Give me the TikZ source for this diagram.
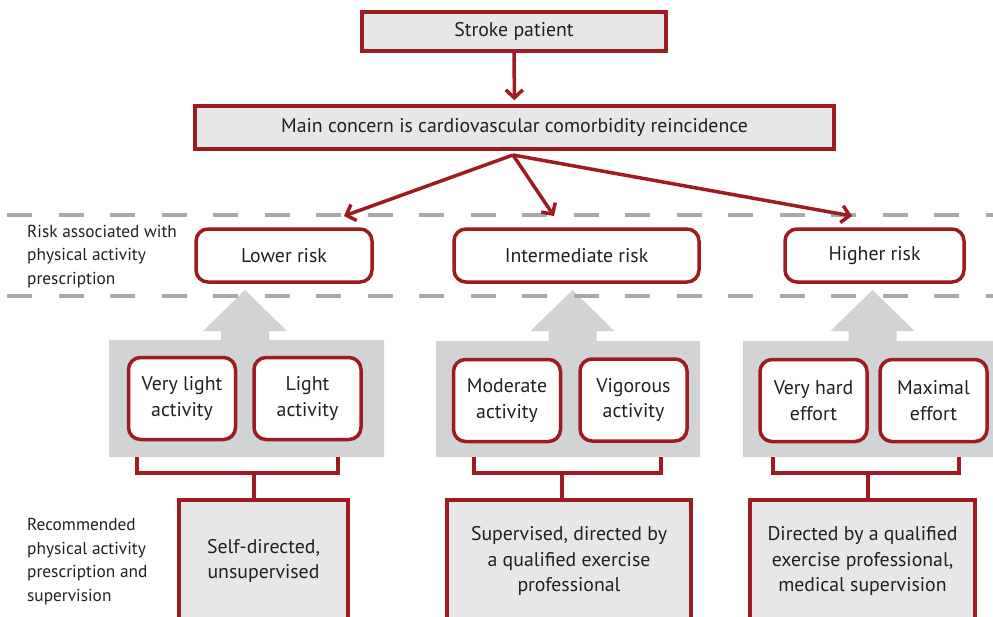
\documentclass[tikz,border=0pt]{standalone}
\usepackage{fontspec}
\setmainfont{PT Sans}
\usetikzlibrary{arrows.meta}
\definecolor{framered}{HTML}{9E1B22}
\definecolor{boxgray}{HTML}{E6E7E8}
\definecolor{blockgray}{HTML}{D1D3D4}
\definecolor{dashgray}{HTML}{A7A9AC}
\definecolor{inkgray}{HTML}{231F20}
\tikzset{
  flatbox/.style={draw=framered, line width=3.5pt, fill=boxgray, text=inkgray,
    font=\fontsize{19.8}{25.5}\selectfont, align=center, inner sep=0pt},
  riskbox/.style={flatbox, fill=white, rounded corners=12pt},
  sidelabel/.style={text=inkgray, font=\fontsize{17.3}{23.5}\selectfont, align=left,
    anchor=west, inner sep=0pt},
  redarrow/.style={draw=framered, line width=3.5pt, -{Straight Barb[length=8pt,width=17pt]}},
  bracket/.style={draw=framered, line width=3.5pt},
}
\begin{document}
\begin{tikzpicture}[x=1pt, y=-1pt]
  \useasboundingbox (0,0) rectangle (993,616);
  % grey block arrows behind the activity boxes
  \foreach \xa/\xb/\xc/\ya in {109/384/245/340, 436/700/572.5/341, 743/995/872.5/341} {
    \fill[blockgray] (\xa,\ya) -- (\xc-24,\ya) -- (\xc-24,331) -- (\xc-42,331)
      -- (\xc,290) -- (\xc+42,331) -- (\xc+24,331) -- (\xc+24,\ya) -- (\xb,\ya)
      -- (\xb,457) -- (\xa,457) -- cycle;
  }
  % dashed band
  \foreach \y in {215,296}
    \draw[dashgray, line width=4pt, dash pattern=on 25pt off 26.5pt] (7,\y) -- (995,\y);

  \node[flatbox, minimum width=304pt, minimum height=39pt] (stroke) at (514,31.5) {Stroke patient};
  \node[flatbox, minimum width=639pt, minimum height=43pt] (main) at (514.5,127.5)
    {Main concern is cardiovascular comorbidity reincidence};
  \draw[redarrow, shorten >=4pt] (stroke) -- (main);

  \coordinate (fork) at (513,155);
  \coordinate (tipL) at (344,216);
  \coordinate (tipM) at (554,216);
  \coordinate (tipH) at (852,216);
  \foreach \t in {tipL,tipM,tipH}
    \draw[redarrow] (fork) -- (\t);

  \node[sidelabel] (risklabel) at (27,256.5) {Risk associated with\\physical activity\\prescription};
  \node[riskbox, minimum width=176pt, minimum height=53pt] (lower) at (284,255.5) {Lower risk};
  \node[riskbox, minimum width=245pt, minimum height=53pt] (inter) at (576.5,255.5) {Intermediate risk};
  \node[riskbox, minimum width=179pt, minimum height=53pt] (higher) at (874.5,255.5) {Higher risk};

  % activity intensities
  \tikzset{actbox/.style={riskbox, minimum width=107pt, minimum height=82pt}}
  \node[actbox] (vlight) at (182,398.5) {Very light\\activity};
  \node[actbox] (light) at (307.5,398.5) {Light\\activity};
  \node[actbox] (moderate) at (507,400.5) {Moderate\\activity};
  \node[actbox] (vigorous) at (633.5,400) {Vigorous\\activity};
  \node[actbox] (vhard) at (813.5,400.5) {Very hard\\effort};
  \node[actbox] (maximal) at (933.5,400.5) {Maximal\\effort};

  % supervision
  \node[sidelabel] (reclabel) at (27,561.5) {Recommended\\physical activity\\prescription and\\supervision};
  \node[flatbox, minimum width=169pt, minimum height=122pt] (self) at (263.5,561) {Self-directed,\\unsupervised};
  \node[flatbox, minimum width=244pt, minimum height=122pt] (superv) at (569,561)
    {Supervised, directed by\\a qualified exercise\\professional};
  \node[flatbox, minimum width=225pt, minimum height=122pt] (medical) at (862.5,561)
    {Directed by a qualified\\exercise professional,\\medical supervision};

  % brackets joining each pair to its supervision box
  \foreach \xa/\xb/\xd/\n in {137/338/254/self, 474/661/562/superv, 773/959/868/medical} {
    \coordinate (drop) at (\xd,473);
    \draw[bracket] (\xa,457) -- (\xa,473) -- (\xb,473) -- (\xb,457);
    \draw[bracket] (drop) -- (drop |- \n.north);
  }
\end{tikzpicture}
\end{document}
